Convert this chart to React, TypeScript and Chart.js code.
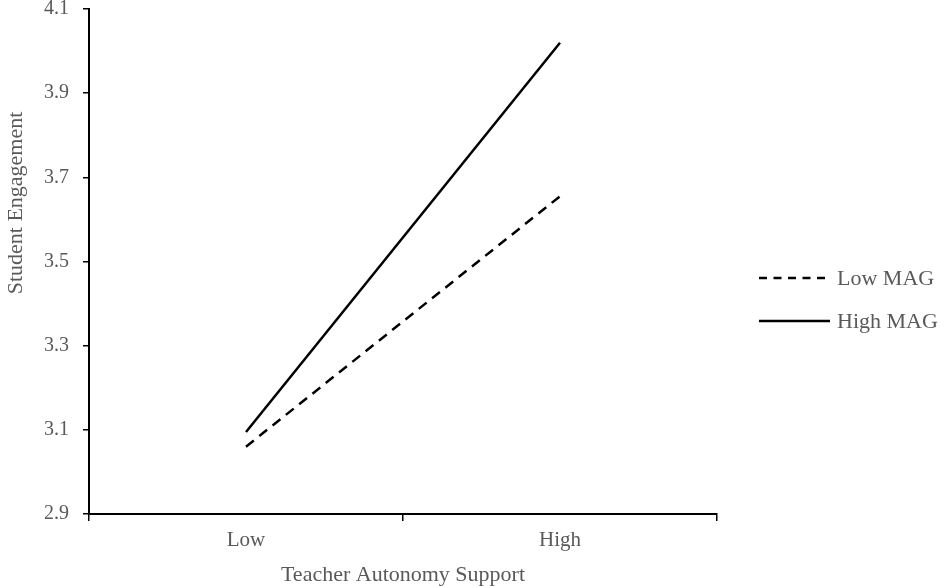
import React, { useEffect, useRef } from "react";
import { Chart, registerables } from "chart.js";

Chart.register(...registerables);

const categories = ["Low", "High"];
const lowMag = [3.06, 3.655];
const highMag = [3.095, 4.02];
const yTicks = [2.9, 3.1, 3.3, 3.5, 3.7, 3.9, 4.1];
const seriesNames = ["Low MAG", "High MAG"];
const xTitle = "Teacher Autonomy Support";
const yTitle = "Student Engagement";

const FONT = "'Liberation Serif', 'Times New Roman', serif";
const TEXT = "#595959";

const overlayPlugin = {
  id: "customOverlay",
  afterDraw(chart: any) {
    const ctx = chart.ctx;
    const items = [
      { label: seriesNames[0], dash: [8, 6.5], y: 278, x2: 827 },
      { label: seriesNames[1], dash: [], y: 321, x2: 830 },
    ];
    ctx.save();
    items.forEach((it) => {
      ctx.beginPath();
      ctx.setLineDash(it.dash);
      ctx.lineWidth = 2.5;
      ctx.strokeStyle = "#000";
      ctx.moveTo(759, it.y);
      ctx.lineTo(it.x2, it.y);
      ctx.stroke();
      ctx.setLineDash([]);
      ctx.fillStyle = TEXT;
      ctx.font = `22px ${FONT}`;
      ctx.textBaseline = "middle";
      ctx.textAlign = "left";
      ctx.fillText(it.label, 837, it.y + 1);
    });
    // y axis title, placed above centre as in the reference
    ctx.translate(16, 203);
    ctx.rotate(-Math.PI / 2);
    ctx.font = `22px ${FONT}`;
    ctx.fillStyle = TEXT;
    ctx.textAlign = "center";
    ctx.textBaseline = "middle";
    ctx.fillText(yTitle, 0, 0);
    ctx.restore();
  },
};

export default function App() {
  const ref = useRef<HTMLCanvasElement>(null);
  useEffect(() => {
    document.body.style.margin = "0";
    const chart = new Chart(ref.current!, {
      type: "line",
      data: {
        labels: categories,
        datasets: [
          {
            label: seriesNames[0],
            data: lowMag,
            borderColor: "#000",
            borderWidth: 2.5,
            borderDash: [10, 7],
            pointRadius: 0,
            fill: false,
          },
          {
            label: seriesNames[1],
            data: highMag,
            borderColor: "#000",
            borderWidth: 2.5,
            pointRadius: 0,
            fill: false,
          },
        ],
      },
      options: {
        animation: false,
        responsive: false,
        maintainAspectRatio: false,
        layout: { padding: { left: 2, right: 228, top: 9, bottom: 0 } },
        plugins: {
          legend: { display: false },
          tooltip: { enabled: false },
        },
        scales: {
          x: {
            type: "category",
            offset: true,
            grid: {
              display: true,
              offset: true,
              drawOnChartArea: false,
              drawTicks: true,
              tickLength: 7,
              color: "#000",
              lineWidth: 1.5,
            },
            border: { display: true, color: "#000", width: 2 },
            ticks: {
              color: TEXT,
              font: { family: FONT, size: 21 },
              padding: 7,
              maxRotation: 0,
            },
            title: {
              display: true,
              text: xTitle,
              color: TEXT,
              font: { family: FONT, size: 22 },
              padding: { top: 0, bottom: -2 },
            },
            afterFit(scale: any) {
              scale.height = 72;
              scale.paddingLeft = 0;
              scale.paddingRight = 0;
            },
          },
          y: {
            min: 2.9,
            max: 4.1,
            afterBuildTicks(scale: any) {
              scale.ticks = yTicks.map((v) => ({ value: v }));
            },
            grid: {
              display: true,
              drawOnChartArea: false,
              drawTicks: true,
              tickLength: 6,
              color: "#000",
              lineWidth: 1.5,
            },
            border: { display: true, color: "#000", width: 2 },
            ticks: {
              color: TEXT,
              font: { family: FONT, size: 20 },
              padding: 14,
              callback: (v: any) => Number(v).toFixed(1),
            },
            title: { display: false },
            afterFit(scale: any) {
              scale.width = 87;
              scale.paddingTop = 0;
              scale.paddingBottom = 0;
            },
          },
        },
      },
      plugins: [overlayPlugin],
    });
    return () => chart.destroy();
  }, []);
  return (
    <div style={{ position: "absolute", left: 0, top: 0, width: 945, height: 586, background: "#fff" }}>
      <canvas ref={ref} width={945} height={586} style={{ width: 945, height: 586 }} />
    </div>
  );
}
